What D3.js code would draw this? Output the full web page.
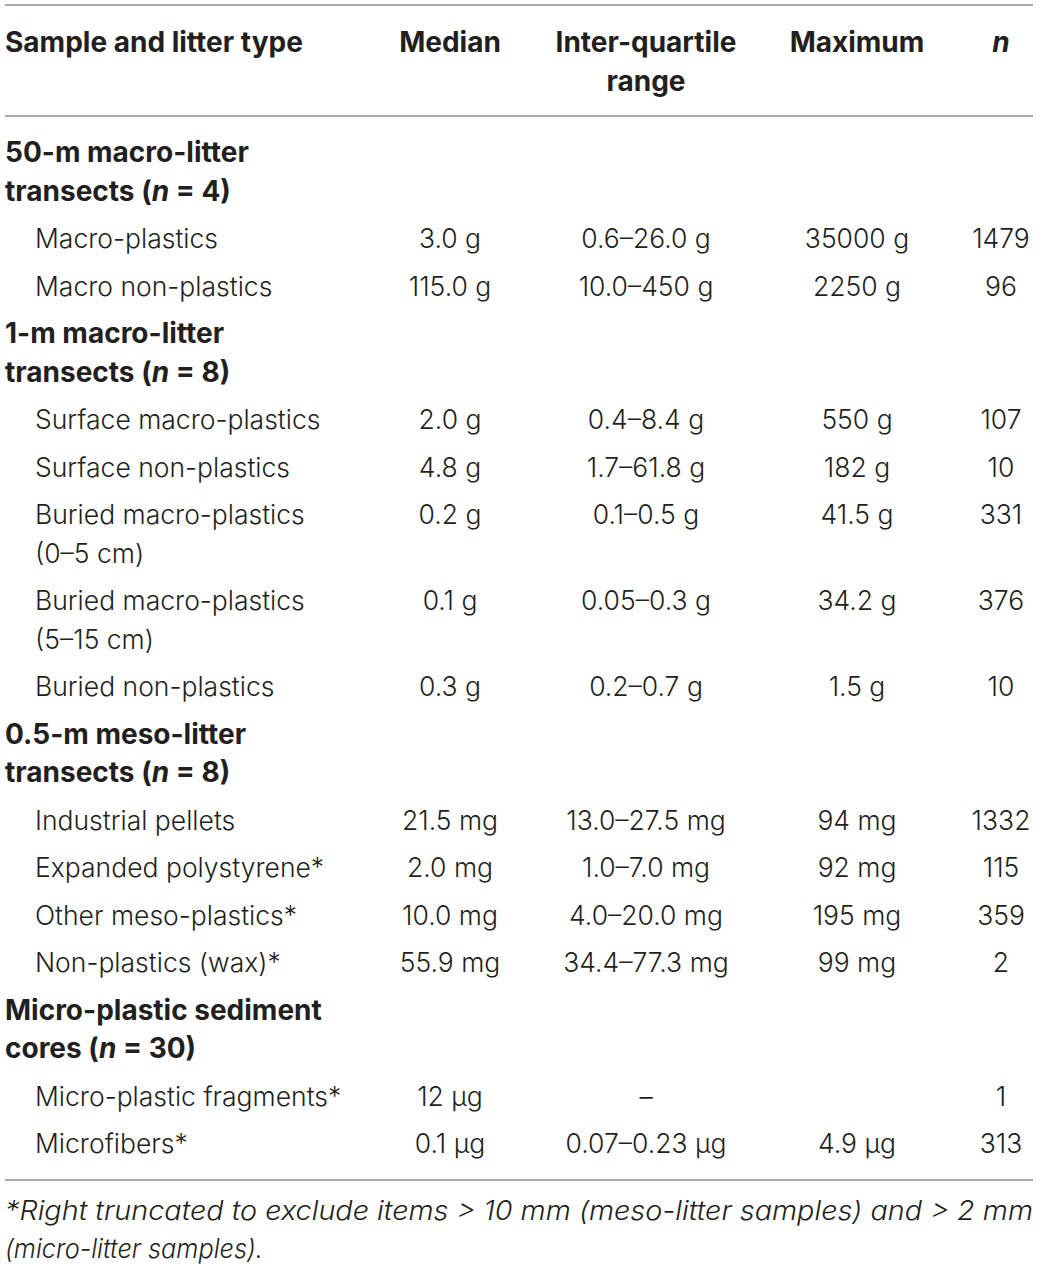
<!DOCTYPE html>
<html>
<head>
<meta charset="utf-8">
<title>Litter mass summary table</title>
<style>
  body { margin: 0; background: #fff; }
  svg text { font-family: Inter, Roboto, "Liberation Sans", sans-serif; fill: #231f20; }
</style>
</head>
<body>
<script src="https://cdn.jsdelivr.net/npm/d3@7"></script>
<script>
// ---- table content ----
var headers = [["Sample and litter type"], ["Median"], ["Inter-quartile", "range"], ["Maximum"], ["n"]];
var columns = ["label", "median", "iqr", "max", "n"];

var groupTitles = [
  ["50-m macro-litter", "transects (n = 4)"],
  ["1-m macro-litter", "transects (n = 8)"],
  ["0.5-m meso-litter", "transects (n = 8)"],
  ["Micro-plastic sediment", "cores (n = 30)"]
];

var itemLabels = [
  ["Macro-plastics"],
  ["Macro non-plastics"],
  ["Surface macro-plastics"],
  ["Surface non-plastics"],
  ["Buried macro-plastics", "(0\u20135 cm)"],
  ["Buried macro-plastics", "(5\u201315 cm)"],
  ["Buried non-plastics"],
  ["Industrial pellets"],
  ["Expanded polystyrene*"],
  ["Other meso-plastics*"],
  ["Non-plastics (wax)*"],
  ["Micro-plastic fragments*"],
  ["Microfibers*"]
];
var itemGroup = [0, 0, 1, 1, 1, 1, 1, 2, 2, 2, 2, 3, 3];
var medians = ["3.0 g", "115.0 g", "2.0 g", "4.8 g", "0.2 g", "0.1 g", "0.3 g",
               "21.5 mg", "2.0 mg", "10.0 mg", "55.9 mg", "12 \u03bcg", "0.1 \u03bcg"];
var iqrs = ["0.6\u201326.0 g", "10.0\u2013450 g", "0.4\u20138.4 g", "1.7\u201361.8 g", "0.1\u20130.5 g",
            "0.05\u20130.3 g", "0.2\u20130.7 g", "13.0\u201327.5 mg", "1.0\u20137.0 mg", "4.0\u201320.0 mg",
            "34.4\u201377.3 mg", "\u2013", "0.07\u20130.23 \u03bcg"];
var maxima = ["35000 g", "2250 g", "550 g", "182 g", "41.5 g", "34.2 g", "1.5 g",
              "94 mg", "92 mg", "195 mg", "99 mg", "", "4.9 \u03bcg"];
var counts = [1479, 96, 107, 10, 331, 376, 10, 1332, 115, 359, 2, 1, 313];

var footnote = ["*Right truncated to exclude items > 10 mm (meso-litter samples) and > 2 mm",
                "(micro-litter samples)."];

// ---- layout ----
var width = 1039, height = 1267;
var bodySize = 26.5, boldSize = 28, lineStep = 38.5, rowStep = 47.5;
var ruleColor = "#8c8c8c";

var x = d3.scaleOrdinal().domain(columns).range([5, 450, 646, 857, 1001]);
var anchor = d3.scaleOrdinal().domain(columns).range(["start", "middle", "middle", "middle", "middle"]);

// build row list: group title rows followed by their items
var rows = [];
groupTitles.forEach(function(g, gi) {
  rows.push({type: "group", lines: g});
  itemGroup.forEach(function(grp, i) {
    if (grp === gi) {
      rows.push({type: "item", lines: itemLabels[i],
        cells: {median: medians[i], iqr: iqrs[i], max: maxima[i], n: String(counts[i])}});
    }
  });
});

// baseline of each row's first line
var base = 162;
rows.forEach(function(r) {
  r.y = base;
  base += (r.lines.length - 1) * lineStep + rowStep;
});

var svg = d3.select("body").append("svg")
  .attr("width", width)
  .attr("height", height);

function rule(y) {
  svg.append("line")
    .attr("x1", 5).attr("x2", 1033)
    .attr("y1", y).attr("y2", y)
    .attr("stroke", ruleColor)
    .attr("stroke-width", 1.6);
}
rule(5);
rule(116);
rule(1180);

// writes "(n = k)" with italic n
function richLine(sel, str) {
  var parts = str.split(/(\bn\b)/);
  parts.forEach(function(p) {
    if (p === "") return;
    var t = sel.append("tspan").text(p);
    if (p === "n") t.attr("font-style", "italic");
  });
}

// header
var head = svg.append("g").attr("class", "header");
headers.forEach(function(lines, ci) {
  var t = head.append("text")
    .attr("x", x(columns[ci]))
    .attr("y", 52)
    .attr("text-anchor", anchor(columns[ci]))
    .attr("font-size", boldSize)
    .attr("font-weight", 700)
    .attr("font-style", columns[ci] === "n" ? "italic" : null);
  lines.forEach(function(l, li) {
    t.append("tspan")
      .attr("x", x(columns[ci]))
      .attr("dy", li === 0 ? 0 : lineStep)
      .text(l);
  });
});

// body
var body = svg.append("g").attr("class", "body");
var rowSel = body.selectAll("g.row").data(rows).enter().append("g")
  .attr("class", "row")
  .attr("transform", function(d) { return "translate(0," + d.y + ")"; });

rowSel.each(function(d) {
  var g = d3.select(this);
  var isGroup = d.type === "group";
  var lx = isGroup ? x("label") : x("label") + 30;
  d.lines.forEach(function(l, li) {
    var t = g.append("text")
      .attr("x", lx)
      .attr("y", li * lineStep)
      .attr("font-size", isGroup ? boldSize : bodySize)
      .attr("font-weight", isGroup ? 700 : 300);
    if (isGroup) richLine(t, l); else t.text(l);
  });
  if (!isGroup) {
    ["median", "iqr", "max", "n"].forEach(function(c) {
      g.append("text")
        .attr("x", x(c))
        .attr("y", 0)
        .attr("text-anchor", anchor(c))
        .attr("font-size", bodySize)
        .attr("font-weight", 300)
        .text(d.cells[c]);
    });
  }
});

// footnote
var foot = svg.append("g").attr("class", "footnote");
footnote.forEach(function(l, i) {
  foot.append("text")
    .attr("x", 5)
    .attr("y", 1220 + i * 37.5)
    .attr("font-size", bodySize)
    .attr("font-weight", 300)
    .attr("font-style", "italic")
    .attr("textLength", i === 0 ? 1028 : 258)
    .attr("lengthAdjust", "spacingAndGlyphs")
    .text(l);
});
</script>
</body>
</html>
